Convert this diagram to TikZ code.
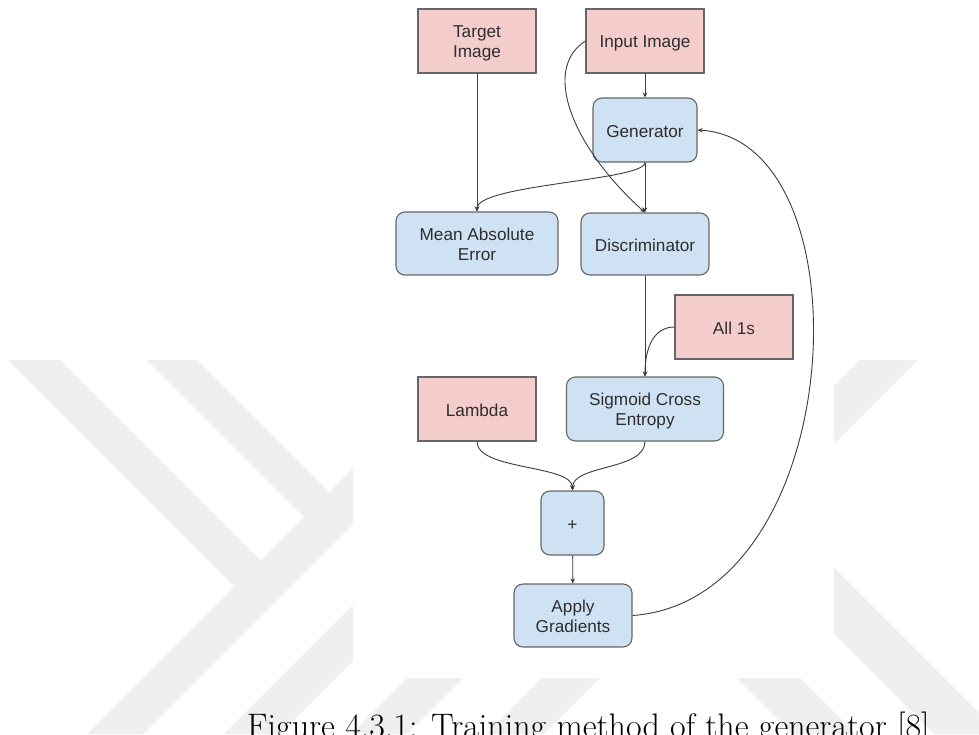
\documentclass[tikz,border=0pt]{standalone}
\usepackage{fontspec}
\newfontfamily\arialf{Liberation Sans}
\usetikzlibrary{arrows.meta}
\definecolor{wm}{RGB}{239,239,239}
\definecolor{pinkf}{HTML}{F4CCCC}
\definecolor{bluef}{HTML}{CFE2F3}
\definecolor{edgec}{HTML}{666666}
\definecolor{linec}{HTML}{3C3C3C}
\definecolor{txtc}{HTML}{2E2E2E}
\newcommand\lst{\rule[-2pt]{0pt}{18pt}}
\begin{document}
\begin{tikzpicture}[x=1pt,y=-1pt,
  box/.style={draw=edgec, line width=1.1pt, font=\arialf\fontsize{17.2}{20}\selectfont, text=txtc, align=center, inner sep=0pt},
  pbox/.style={box, fill=pinkf, minimum width=118pt, minimum height=64pt},
  bbox/.style={box, fill=bluef, rounded corners=9pt},
  conn/.style={draw=linec, line width=0.9pt, -{Stealth[length=5pt,width=4.5pt]}},
  band/.style={fill=wm, draw=none}
]
\useasboundingbox (0,0) rectangle (979,734);
\fill[white] (0,0) rectangle (979,734);
% watermark
\fill[band] (8,360) -- (60,360) -- (260.5,560.5) -- (234.5,586.5) -- cycle;
\fill[band] (147,360) -- (197,360) -- (329,492) -- (304,517) -- cycle;
\fill[band] (87,734) -- (143,734) -- (420,457) -- (420,401) -- cycle;
\fill[band] (224,734) -- (280,734) -- (420,594) -- (420,538) -- cycle;
\fill[band] (351,734) -- (407,734) -- (481,660) -- (425,660) -- cycle;
\fill[band] (860,360) -- (918,360) -- (544,734) -- (486,734) -- cycle;
\fill[band] (700,641) -- (763,641) -- (856,734) -- (793,734) -- cycle;
\fill[band] (740,540) -- (806,540) -- (1000,734) -- (934,734) -- cycle;
% figure image area
\fill[white] (353,0) rectangle (834,678);
% nodes
\node[pbox] (tgt) at (477,41) {\lst Target\\\lst Image};
\node[pbox] (inp) at (645,41) {\lst Input Image};
\node[bbox, minimum width=104pt, minimum height=64pt] (gen) at (645,130) {\lst Generator};
\node[bbox, minimum width=162pt, minimum height=63pt] (mae) at (477,243.5) {\lst Mean Absolute\\\lst Error};
\node[bbox, minimum width=128pt, minimum height=62pt] (disc) at (645,244) {\lst Discriminator};
\node[pbox] (ones) at (734,327) {\lst All 1s};
\node[pbox] (lam) at (477,409) {\lst Lambda};
\node[bbox, minimum width=157pt, minimum height=64pt] (sce) at (645,409) {\lst Sigmoid Cross\\\lst Entropy};
\node[bbox, minimum width=63pt, minimum height=64pt] (plus) at (572.5,523) {\lst +};
\node[bbox, minimum width=118pt, minimum height=63pt] (apply) at (573,615.5) {\lst Apply\\\lst Gradients};
% connectors
\draw[conn] (tgt) -- (mae);
\draw[conn] (inp) -- (gen);
\draw[conn] (gen.south) .. controls +(0,18) and +(0,-27) .. (mae.north);
\draw[conn] (gen) -- (disc);
\draw[conn] (inp.west) .. controls (540,70) and (575,150) .. (disc.north);
\draw[conn] (disc) -- (sce);
\draw[conn] (ones.west) .. controls +(-20,0) and +(0,-30) .. (sce.north);
\draw[conn] (lam.south) .. controls +(0,29) and +(0,-26) .. (plus.north);
\draw[conn] (sce.south) .. controls +(0,29) and +(0,-26) .. (plus.north);
\draw[conn] (plus) -- (apply);
\draw[conn] (apply.east) .. controls (850,600) and (870,140) .. (gen.east);
% caption
\node[anchor=base west, inner sep=0pt, font=\fontsize{34}{38}\selectfont] (cap) at (247,737) {Figure 4.3.1: Training method of the generator [8]};
\end{tikzpicture}
\end{document}
